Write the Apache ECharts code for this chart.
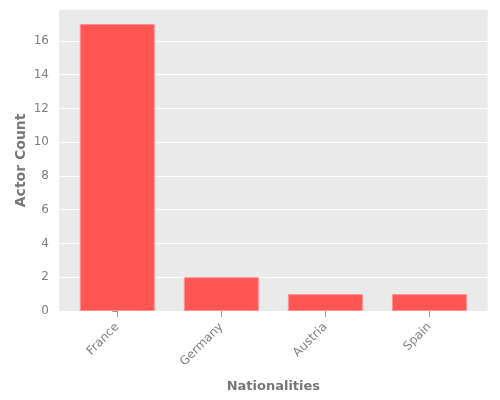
<!DOCTYPE html>
<html><head><meta charset="utf-8">
<script src="https://cdn.jsdelivr.net/npm/echarts@6/dist/echarts.min.js"></script>
<style>html,body{margin:0;padding:0;background:#fff}#c{width:500px;height:400px}</style>
</head><body><div id="c"></div>
<script>
const categories = ["France", "Germany", "Austria", "Spain"];
const actorCounts = [17, 2, 1, 1];
const yTicks = [0, 2, 4, 6, 8, 10, 12, 14, 16];

const chart = echarts.init(document.getElementById('c'), null, {renderer: 'canvas'});
const idx = categories.map((_, i) => i);
chart.setOption({
  animation: false,
  grid: {left: 59, right: 12.3, top: 9.7, bottom: 89, show: true, backgroundColor: '#EAEAEA', borderWidth: 0,
         containLabel: false, outerBoundsMode: 'none'},
  xAxis: {
    type: 'value', min: -0.56, max: 3.56,
    name: 'Nationalities', nameLocation: 'middle', nameGap: 69, nameMoveOverlap: false,
    nameTextStyle: {fontFamily: 'DejaVu Sans', fontSize: 13, fontWeight: 'bold', color: '#777'},
    axisLine: {show: false},
    splitLine: {show: false},
    axisTick: {show: true, length: 6, lineStyle: {color: '#999'}, customValues: idx},
    axisLabel: {customValues: idx, rotate: 45, margin: 14, fontFamily: 'DejaVu Sans', fontSize: 12, color: '#808080',
      formatter: v => categories[Math.round(v)] || ''}
  },
  yAxis: {
    type: 'value', min: 0, max: 17.85, interval: 2,
    name: 'Actor Count', nameLocation: 'middle', nameGap: 31, nameMoveOverlap: false,
    nameTextStyle: {fontFamily: 'DejaVu Sans', fontSize: 14, fontWeight: 'bold', color: '#777'},
    axisLine: {show: false},
    axisTick: {show: true, length: 5, lineStyle: {color: '#999'}, customValues: yTicks},
    axisLabel: {customValues: yTicks, margin: 10, fontFamily: 'DejaVu Sans', fontSize: 12, color: '#808080'},
    splitLine: {show: true, lineStyle: {color: '#fff', width: 1}}
  },
  series: [{
    type: 'bar',
    data: actorCounts.map((v, i) => [i, v]),
    barWidth: 75,
    itemStyle: {color: '#FF5555', borderColor: '#FF9090', borderWidth: 1}
  }]
});
</script></body></html>
